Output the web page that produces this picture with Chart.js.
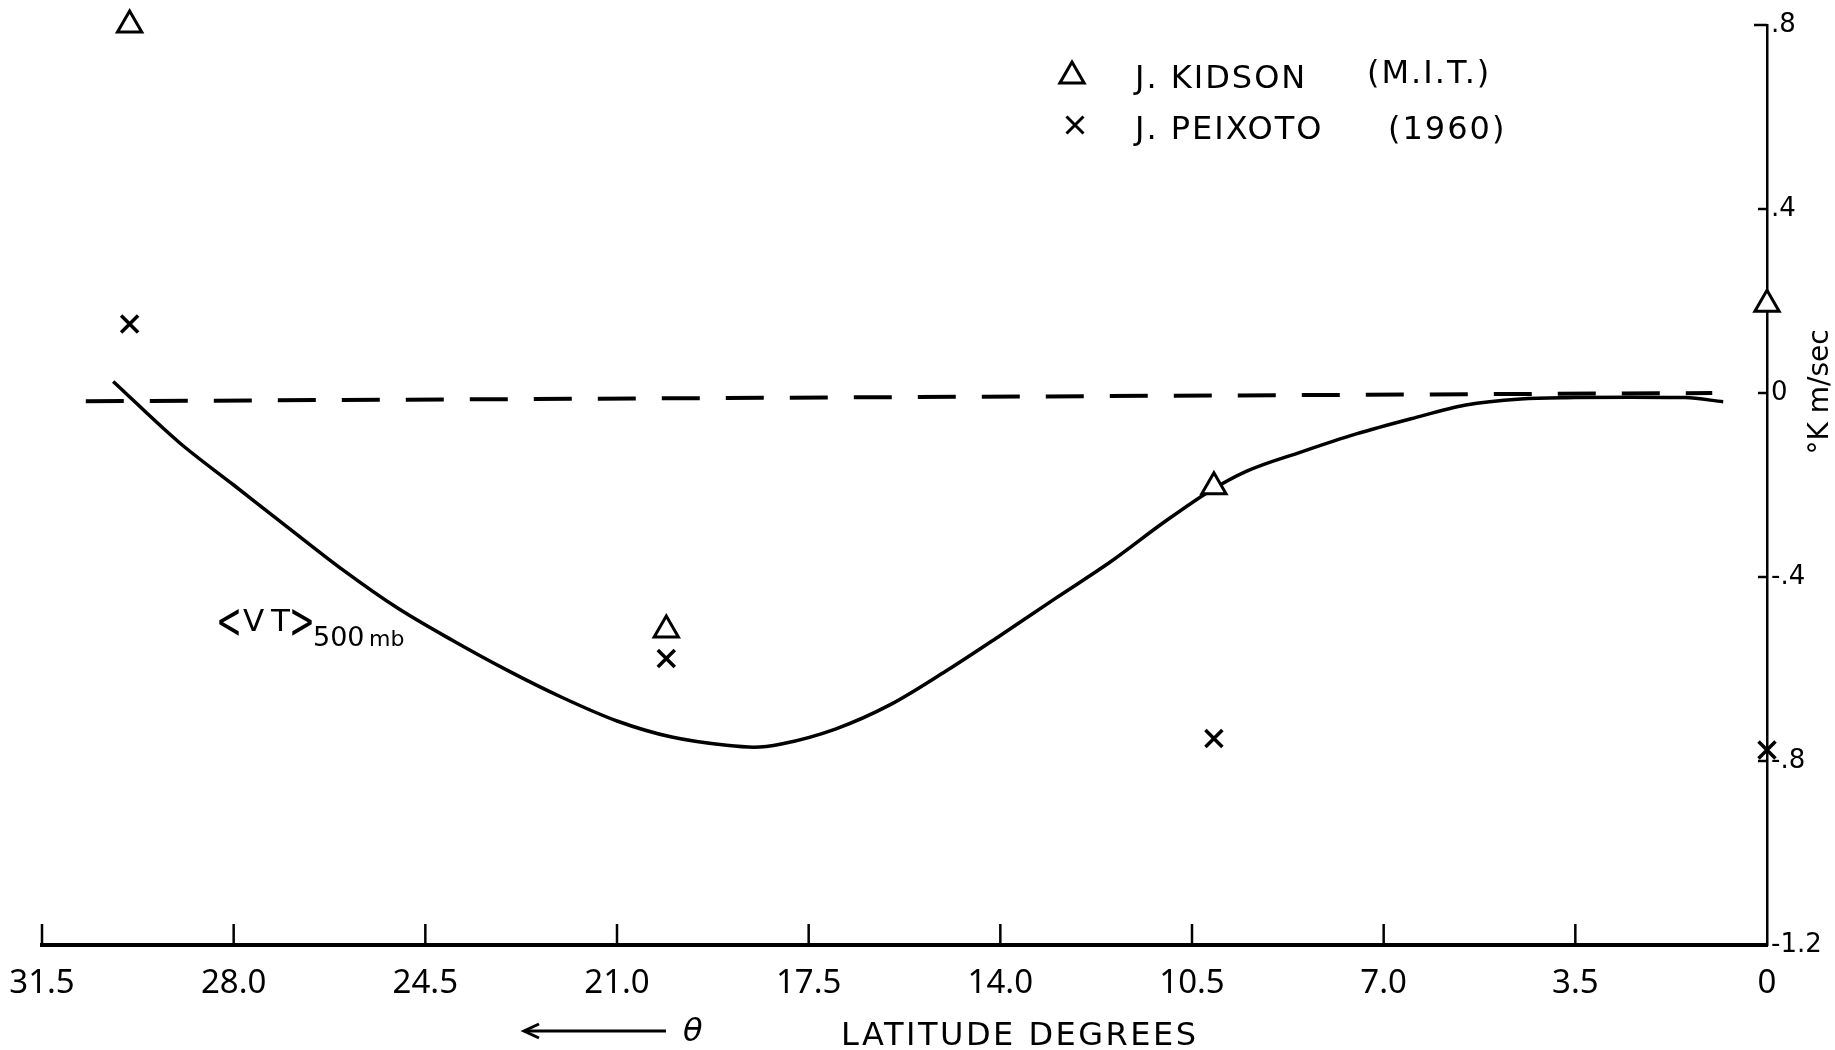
<!DOCTYPE html>
<html><head><meta charset="utf-8">
<script src="https://cdn.jsdelivr.net/npm/chart.js@4.4.1/dist/chart.umd.min.js"></script>
<style>html,body{margin:0;padding:0;background:#fff;}canvas{display:block;}</style>
</head><body>
<canvas id="c" width="1835" height="1050"></canvas>
<script>
// ---- data ----
const xTickValues = [0, 3.5, 7, 10.5, 14, 17.5, 21, 24.5, 28, 31.5];
const xTickLabels = ['0', '3.5', '7.0', '10.5', '14.0', '17.5', '21.0', '24.5', '28.0', '31.5'];
const yTickValues = [-1.2, -0.8, -0.4, 0, 0.4, 0.8];
const yTickLabels = ['-1.2', '-.8', '-.4', '0', '.4', '.8'];

const curveLat = [30.2, 29.0, 28.0, 27.0, 26.0, 25.0, 24.0, 23.0, 22.0, 21.0, 20.0, 19.0, 18.5, 18.0, 17.0, 16.0, 15.0, 14.0, 13.0, 12.0, 11.0, 10.2, 9.5, 8.5, 7.5, 6.5, 5.5, 4.5, 3.5, 2.5, 1.5, 0.8];
const curveVal = [0.025, -0.107, -0.200, -0.293, -0.385, -0.468, -0.538, -0.603, -0.662, -0.713, -0.748, -0.766, -0.770, -0.763, -0.730, -0.677, -0.605, -0.527, -0.447, -0.368, -0.280, -0.215, -0.170, -0.128, -0.089, -0.056, -0.026, -0.013, -0.010, -0.009, -0.010, -0.019];

const zeroLat = [30.7, 1.0];
const zeroVal = [-0.018, 0.0];

const kidsonLat = [29.9, 20.1, 10.1, 0];
const kidsonVal = [0.80, -0.515, -0.204, 0.193];
const peixotoLat = [29.9, 20.1, 10.1, 0];
const peixotoVal = [0.150, -0.577, -0.751, -0.776];

const legendLabels = [['J. KIDSON', '(M.I.T.)'], ['J. PEIXOTO', '(1960)']];
const xTitle = 'LATITUDE DEGREES';
const yTitle = '°K m/sec';
const curveLabelParts = ['<', 'V', 'T', '>', '500', 'mb'];

const pts = (xs, ys) => xs.map((x, i) => ({ x: x, y: ys[i] }));

const TXT = "'DejaVu Sans', 'Liberation Sans', sans-serif";
const NARROW = "'Noto Sans', 'DejaVu Sans', sans-serif";

const decor = {
  id: 'decor',
  afterDraw(chart) {
    const ctx = chart.ctx, ca = chart.chartArea;
    const xs = chart.scales.x, ys = chart.scales.y;
    ctx.save();
    ctx.strokeStyle = '#000'; ctx.fillStyle = '#000'; ctx.lineCap = 'butt';
    // inward ticks
    ctx.lineWidth = 2.5;
    xTickValues.forEach(v => {
      if (v === 0) return;
      const px = xs.getPixelForValue(v);
      ctx.beginPath(); ctx.moveTo(px, ca.bottom); ctx.lineTo(px, ca.bottom - 21); ctx.stroke();
    });
    yTickValues.forEach(v => {
      if (v === -1.2) return;
      const py = ys.getPixelForValue(v);
      ctx.beginPath(); ctx.moveTo(ca.right, py); ctx.lineTo(ca.right - (v === 0.8 ? 13 : 9), py); ctx.stroke();
    });
    // y title (rotated, reading bottom to top)
    ctx.save();
    ctx.translate(1821, 392);
    ctx.rotate(-Math.PI / 2);
    ctx.font = '28px ' + TXT;
    ctx.textAlign = 'center'; ctx.textBaseline = 'middle';
    ctx.fillText(yTitle, 0, 0);
    ctx.restore();
    // x title
    ctx.font = '32px ' + TXT;
    ctx.letterSpacing = '2.5px';
    ctx.textAlign = 'left'; ctx.textBaseline = 'alphabetic';
    ctx.fillText(xTitle, 841, 1045);
    ctx.letterSpacing = '0px';
    // arrow + theta
    ctx.lineWidth = 3;
    ctx.beginPath(); ctx.moveTo(524, 1031); ctx.lineTo(666, 1031); ctx.stroke();
    ctx.beginPath(); ctx.moveTo(539, 1024); ctx.lineTo(524, 1031); ctx.lineTo(539, 1038); ctx.stroke();
    ctx.font = 'italic 32px ' + TXT;
    ctx.fillText('θ', 683, 1041);
    // legend
    const H = Chart.helpers;
    ctx.fillStyle = '#fff';
    H.drawPoint(ctx, { pointStyle: 'triangle', radius: 14, borderWidth: 3, rotation: 0 }, 1072, 76);
    H.drawPoint(ctx, { pointStyle: 'crossRot', radius: 12, borderWidth: 3.5, rotation: 0 }, 1075, 125);
    ctx.fillStyle = '#000';
    ctx.font = '32px ' + TXT;
    ctx.letterSpacing = '2px';
    ctx.fillText(legendLabels[0][0], 1135, 88);
    ctx.fillText(legendLabels[0][1], 1367, 83);
    ctx.fillText(legendLabels[1][0], 1135, 139);
    ctx.fillText(legendLabels[1][1], 1388, 139);
    ctx.letterSpacing = '0px';
    // curve label  <V T> 500mb
    ctx.save(); ctx.translate(216, 638); ctx.scale(0.62, 1);
    ctx.font = '50px ' + TXT; ctx.fillText(curveLabelParts[0], 0, 0); ctx.restore();
    ctx.save(); ctx.translate(289, 638); ctx.scale(0.62, 1);
    ctx.font = '50px ' + TXT; ctx.fillText(curveLabelParts[3], 0, 0); ctx.restore();
    ctx.font = '31px ' + TXT;
    ctx.fillText(curveLabelParts[1], 243, 631);
    ctx.fillText(curveLabelParts[2], 271, 631);
    ctx.font = '27px ' + TXT;
    ctx.fillText(curveLabelParts[4], 313, 646);
    ctx.font = '22px ' + TXT;
    ctx.fillText(curveLabelParts[5], 369, 646);
    ctx.restore();
  }
};

new Chart(document.getElementById('c'), {
  type: 'scatter',
  data: {
    datasets: [
      { label: 'Kidson', data: pts(kidsonLat, kidsonVal), pointStyle: 'triangle', pointRadius: 14, pointBorderWidth: 3,
        borderColor: '#000', backgroundColor: '#fff', pointBackgroundColor: '#fff', pointBorderColor: '#000', showLine: false, clip: false },
      { label: 'Peixoto', data: pts(peixotoLat, peixotoVal), pointStyle: 'crossRot', pointRadius: 12, pointBorderWidth: 3.5,
        borderColor: '#000', pointBorderColor: '#000', showLine: false, clip: false },
      { label: 'VT500', data: pts(curveLat, curveVal), showLine: true, borderColor: '#000', borderWidth: 3.5,
        pointRadius: 0, cubicInterpolationMode: 'monotone', fill: false, clip: false },
      { label: 'zero', data: pts(zeroLat, zeroVal), showLine: true, borderColor: '#000', borderWidth: 4,
        borderDash: [38, 26], pointRadius: 0, fill: false, clip: false }
    ]
  },
  options: {
    responsive: false, animation: false, devicePixelRatio: 1,
    layout: { padding: { left: 42, top: 25, right: 0, bottom: 0 } },
    plugins: { legend: { display: false }, tooltip: { enabled: false } },
    scales: {
      x: {
        type: 'linear', reverse: true, min: 0, max: 31.5, position: 'bottom',
        afterBuildTicks: s => { s.ticks = xTickValues.map(v => ({ value: v })); },
        afterFit: s => { s.height = 105; },
        ticks: { autoSkip: false, maxRotation: 0, color: '#000', padding: 19,
          font: { family: NARROW, size: 33 },
          callback: v => xTickLabels[Math.round(v / 3.5)] },
        grid: { display: true, drawOnChartArea: false, drawTicks: false },
        border: { display: true, color: '#000', width: 4 }
      },
      y: {
        type: 'linear', position: 'right', min: -1.2, max: 0.8,
        afterBuildTicks: s => { s.ticks = yTickValues.map(v => ({ value: v })); },
        afterFit: s => { s.width = 68; },
        ticks: { autoSkip: false, color: '#000', padding: 4,
          font: { family: TXT, size: 26 },
          callback: v => yTickLabels[Math.round((v + 1.2) / 0.4)] },
        grid: { display: true, drawOnChartArea: false, drawTicks: false },
        border: { display: true, color: '#000', width: 2.5 }
      }
    }
  },
  plugins: [decor]
});
</script>
</body></html>
